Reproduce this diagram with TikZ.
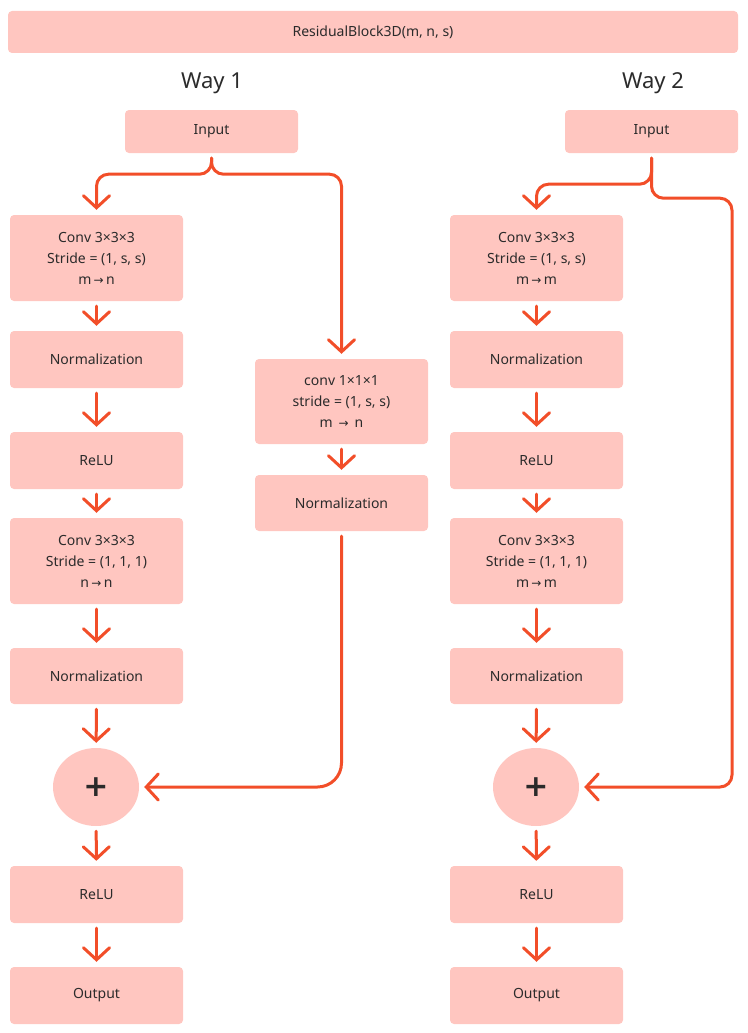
\documentclass[tikz,border=0pt]{standalone}
\usepackage{fontspec}
\setmainfont{Noto Sans}
\newfontfamily\arrowfont{DejaVu Sans}
\newfontfamily\plusfont{DejaVu Sans}
\usetikzlibrary{positioning, calc, arrows.meta, shapes.geometric}
\definecolor{Dark}{HTML}{2B2B2B}
\definecolor{Block}{HTML}{FFC6C0}
\definecolor{Flow}{HTML}{F24E29}
\tikzset{
    blocknode/.style={rectangle, rounded corners=4pt, fill=Block, text=Dark, align=center, font=\fontsize{14}{21}\selectfont, minimum width=173pt, inner sep=0pt},
    sumnode/.style={ellipse, fill=Block, text=Dark, minimum width=86pt, minimum height=78pt, inner sep=0pt, font=\plusfont\bfseries\fontsize{30}{30}\selectfont},
    waylabel/.style={text=Dark, font=\fontsize{22}{22}\selectfont},
    flow/.style={-{Straight Barb[length=12pt, width=26pt, line cap=round]}, line width=3pt, line cap=round, color=Flow, shorten <=5pt, shorten >=5pt},
}
\newcommand{\toarrow}{\,{\arrowfont\fontsize{12}{12}\selectfont →}\,}

\begin{document}
\begin{tikzpicture}[x=1pt, y=-1pt]
    \useasboundingbox (0,0) rectangle (747,1033);

    % Titolo
    \node[blocknode, minimum width=730pt, minimum height=42pt] (title) at (373,32) {ResidualBlock3D(m, n, s)};
    \node[waylabel] (way1) at (212,83) {Way 1};
    \node[waylabel] (way2) at (653,83) {Way 2};

    % Way 1
    \node[blocknode, minimum height=43pt] (inA) at (211.5,131.5) {Input};
    \node[blocknode, minimum height=86pt] (convA) at (96.5,258) {Conv 3×3×3\\Stride = (1, s, s)\\m\toarrow n};
    \node[blocknode, minimum height=57pt] (normA) at (96.5,359.5) {Normalization};
    \node[blocknode, minimum height=57pt] (reluA) at (96.5,460.5) {ReLU};
    \node[blocknode, minimum height=86pt] (convB) at (96.5,561) {Conv 3×3×3\\Stride = (1, 1, 1)\\n\toarrow n};
    \node[blocknode, minimum height=56pt] (normB) at (96.5,676) {Normalization};
    \node[sumnode] (sumA) at (96,787) {+};
    \node[blocknode, minimum height=57pt] (reluB) at (96.5,894.5) {ReLU};
    \node[blocknode, minimum height=57pt] (outA) at (96.5,995.5) {Output};

    % Scorciatoia
    \node[blocknode, minimum height=85pt] (convS) at (341.5,401.5) {conv 1×1×1\\stride = (1, s, s)\\m \toarrow\ n};
    \node[blocknode, minimum height=56pt] (normS) at (341.5,503) {Normalization};

    \draw[flow, rounded corners=12pt] (inA.south) -- ++(0,21) -| (convA.north);
    \draw[flow, rounded corners=12pt] (inA.south) -- ++(0,21) -| (convS.north);
    \draw[flow] (convA) -- (normA);
    \draw[flow] (normA) -- (reluA);
    \draw[flow] (reluA) -- (convB);
    \draw[flow] (convB) -- (normB);
    \draw[flow] (normB) -- (sumA);
    \draw[flow] (sumA) -- (reluB);
    \draw[flow] (reluB) -- (outA);
    \draw[flow] (convS) -- (normS);
    \draw[flow, rounded corners=24pt] (normS.south) |- (sumA.east);

    % Way 2
    \node[blocknode, minimum height=43pt] (inB) at (651.5,131.5) {Input};
    \node[blocknode, minimum height=86pt] (convC) at (536.5,258) {Conv 3×3×3\\Stride = (1, s, s)\\m\toarrow m};
    \node[blocknode, minimum height=57pt] (normC) at (536.5,359.5) {Normalization};
    \node[blocknode, minimum height=57pt] (reluC) at (536.5,460.5) {ReLU};
    \node[blocknode, minimum height=86pt] (convD) at (536.5,561) {Conv 3×3×3\\Stride = (1, 1, 1)\\m\toarrow m};
    \node[blocknode, minimum height=56pt] (normD) at (536.5,676) {Normalization};
    \node[sumnode] (sumB) at (536,787) {+};
    \node[blocknode, minimum height=57pt] (reluD) at (536.5,894.5) {ReLU};
    \node[blocknode, minimum height=57pt] (outB) at (536.5,995.5) {Output};
    \coordinate (skipB) at (732,787);

    \draw[flow, rounded corners=12pt] (inB.south) -- ++(0,31) -| (convC.north);
    \draw[flow, rounded corners=12pt] (inB.south) -- ++(0,45) -| (skipB) -- (sumB.east);
    \draw[flow] (convC) -- (normC);
    \draw[flow] (normC) -- (reluC);
    \draw[flow] (reluC) -- (convD);
    \draw[flow] (convD) -- (normD);
    \draw[flow] (normD) -- (sumB);
    \draw[flow] (sumB) -- (reluD);
    \draw[flow] (reluD) -- (outB);
\end{tikzpicture}
\end{document}
